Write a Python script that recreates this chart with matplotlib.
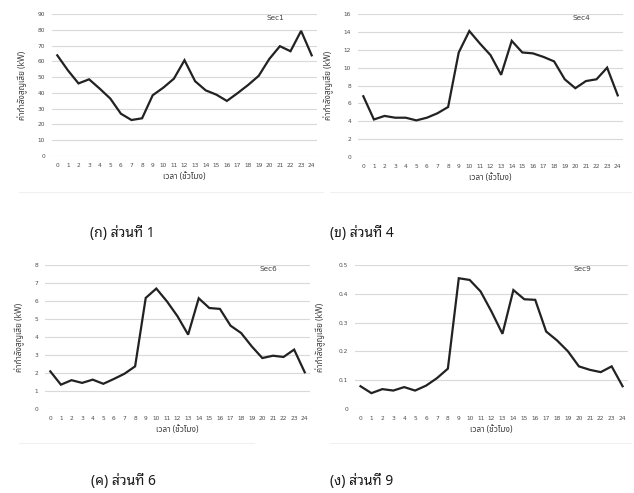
import matplotlib
matplotlib.use("Agg")
import matplotlib.pyplot as plt
from matplotlib.lines import Line2D

# ค่ากำลังสูญเสียรายชั่วโมงของแต่ละส่วน
hours = list(range(25))
sec1 = [63.8, 54.3, 46.0, 48.6, 42.7, 36.4, 26.8, 22.8, 23.9, 38.5, 43.3, 49.0, 60.7,
        47.4, 41.6, 38.9, 34.9, 39.8, 45.0, 50.8, 61.5, 69.6, 66.4, 79.3, 63.8]
sec4 = [6.8, 4.2, 4.6, 4.4, 4.4, 4.1, 4.4, 4.9, 5.6, 11.7, 14.1, 12.7, 11.4,
        9.2, 13.0, 11.7, 11.6, 11.2, 10.7, 8.7, 7.7, 8.5, 8.7, 10.0, 6.9]
sec6 = [2.09, 1.35, 1.60, 1.45, 1.63, 1.40, 1.67, 1.96, 2.37, 6.17, 6.69, 5.98, 5.15,
        4.13, 6.15, 5.61, 5.56, 4.63, 4.22, 3.48, 2.83, 2.96, 2.89, 3.30, 2.04]
sec9 = [0.079, 0.055, 0.069, 0.064, 0.076, 0.064, 0.081, 0.107, 0.140, 0.454, 0.448,
        0.408, 0.338, 0.261, 0.413, 0.381, 0.379, 0.269, 0.238, 0.200, 0.148, 0.136,
        0.128, 0.148, 0.079]

names = ["Sec1", "Sec4", "Sec6", "Sec9"]
captions = ["(ก) ส่วนที่ 1", "(ข) ส่วนที่ 4", "(ค) ส่วนที่ 6", "(ง) ส่วนที่ 9"]
yticks = [list(range(0, 91, 10)), list(range(0, 17, 2)), list(range(0, 9)),
          [0, 0.1, 0.2, 0.3, 0.4, 0.5]]
ytick_labels = [[str(v) for v in yticks[0]], [str(v) for v in yticks[1]],
                [str(v) for v in yticks[2]], ["0", "0.1", "0.2", "0.3", "0.4", "0.5"]]
series = [sec1, sec4, sec6, sec9]

thai = ["Noto Sans Thai", "DejaVu Sans"]
looped = ["Noto Sans Thai Looped", "DejaVu Sans"]

fig = plt.figure(figsize=(6.34, 4.93), dpi=100)

boxes = [
    [0.082, 0.6836, 0.418, 0.288],
    [0.5647, 0.6815, 0.418, 0.290],
    [0.071, 0.1704, 0.418, 0.2921],
    [0.560, 0.1704, 0.4306, 0.2921],
]
label_x = [(0.81, 0.955), (0.81, 0.955), (0.81, 0.955), (0.80, 0.955)]
ylabel_pad = [7, 7, 7, 9]

for i, ax_box in enumerate(boxes):
    ax = fig.add_axes(ax_box)
    ax.plot(hours, series[i], color="#222222", lw=1.6, solid_joinstyle="miter")
    ax.set_xlim(-0.5, 24.5)
    ax.set_ylim(yticks[i][0], yticks[i][-1])
    ax.set_xticks(hours)
    ax.set_xticklabels([str(h) for h in hours])
    ax.set_yticks(yticks[i])
    ax.set_yticklabels(ytick_labels[i])
    ax.grid(axis="y", color="#d9d9d9", lw=0.8)
    ax.set_axisbelow(True)
    for s in ax.spines.values():
        s.set_visible(False)
    ax.tick_params(length=0, labelsize=4.2, colors="#4d4d4d", pad=5)
    ax.set_xlabel("เวลา (ชั่วโมง)", fontsize=6, family=thai, color="#404040", labelpad=3)
    ax.set_ylabel("ค่ากำลังสูญเสีย (kW)", fontsize=6, family=thai, color="#404040",
                  labelpad=ylabel_pad[i])
    ax.text(label_x[i][0], label_x[i][1], names[i], transform=ax.transAxes,
            fontsize=5.2, color="#404040")

# เส้นขอบล่างจาง ๆ ของแต่ละกราฟ
for x0, x1, y in [(0.03, 0.51, 1 - 192 / 493), (0.52, 0.995, 1 - 192 / 493),
                  (0.03, 0.40, 1 - 443 / 493), (0.52, 0.995, 1 - 443 / 493)]:
    fig.add_artist(Line2D([x0, x1], [y, y], color="#f0f0f0", lw=0.8))

# คำบรรยายใต้ภาพ
cap_pos = [(122, 233), (362, 233), (123, 482), (362, 482)]
for (cx, cy), cap in zip(cap_pos, captions):
    fig.text(cx / 634, 1 - cy / 493, cap, ha="center", va="center", fontsize=10,
             family=looped, color="#1a1a1a")

fig.savefig("out.png", dpi=100)
